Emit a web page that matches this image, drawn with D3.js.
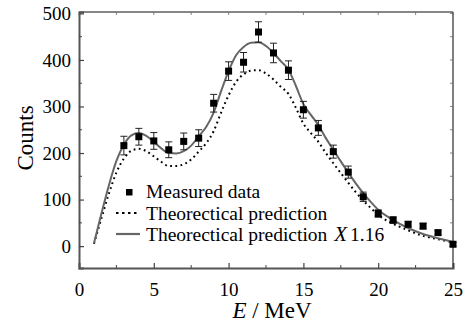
<!DOCTYPE html>
<html><head><meta charset="utf-8">
<script src="https://cdn.jsdelivr.net/npm/d3@7"></script>
<style>body{margin:0;background:#fff}svg{display:block}</style>
</head><body>
<svg id="c" width="473" height="325"></svg>
<script>
// measured data
const measE = [3,4,5,6,7,8,9,10,11,12,13,14,15,16,17,18,19,20,21,22,23,24,25];
const measV = [216,235,226,207,225,232,307,376,395,460,415,378,293,254,203,159,106,70,56,47,43,29,4];
const measErr = [20,18,18,17,18,18,19,20,21,22,21,20,18,16,14,13,10,8,7,6,6,5,4];
// theoretical curves
const curveE = [1,1.5,2,2.5,3,3.5,4,4.5,5,5.5,6,6.5,7,7.5,8,8.5,9,9.5,10,10.5,11,11.5,12,12.5,13,13.5,14,14.5,15,15.5,16,16.5,17,17.5,18,18.5,19,19.5,20,21,22,23,24,25];
const theory = [5,60,113,158,188,205,209,204,193,181,172,172,176,186,203,221,247,287,324,353,369,377,378,371,358,342,327,297,263,243,224,200,178,157,136,116,98,82,67,48,34,22,15,8];
const theoryScaled = [6,70,131,183,218,238,243,237,224,210,200,199,204,216,236,256,287,333,376,410,428,437,438,430,415,397,379,344,305,282,260,232,207,182,158,135,114,95,78,56,39,26,17,9];
const xTicks = [0,5,10,15,20,25];
const yTicks = [0,100,200,300,400,500];
const legendLabels = ["Measured data","Theorectical prediction","Theorectical prediction "];

const FONT = "'Liberation Serif', 'DejaVu Serif', serif";
const svg = d3.select("#c");
const L=79,R=453,T=12,B=268;
const x = d3.scaleLinear().domain([0,25]).range([L,R]);
const y = d3.scaleLinear().domain([-47,503]).range([B,T]);

// frame
svg.append("line").attr("x1",L).attr("x2",R).attr("y1",T).attr("y2",T).attr("stroke","#111").attr("stroke-width",1.2);
svg.append("line").attr("x1",R).attr("x2",R).attr("y1",T).attr("y2",B).attr("stroke","#555").attr("stroke-width",1.5);

const ax = d3.axisBottom(x).tickValues(xTicks).tickSize(-5).tickPadding(10).tickFormat(d3.format("d"));
const gx = svg.append("g").attr("transform",`translate(0,${B})`).call(ax);
const ay = d3.axisLeft(y).tickValues(yTicks).tickSize(-5).tickPadding(8).tickFormat(d3.format("d"));
const gy = svg.append("g").attr("transform",`translate(${L},0)`).call(ay);
[gx,gy].forEach(g=>{
  g.attr("font-family",null).attr("font-size",null);
  g.select(".domain").attr("stroke","#555").attr("stroke-width",2);
  g.selectAll(".tick line").attr("stroke","#444").attr("stroke-width",1.2);
  g.selectAll(".tick text").style("font-size","19px").style("font-family",FONT).attr("fill","#000");
});
gx.selectAll(".tick text").attr("dy","0.95em");
// minor ticks
const xMinor = d3.range(2.5,25,5);
const yMinor = d3.range(0,501,50).filter(v=>v%100!==0);
svg.append("g").selectAll("line").data(xMinor).join("line")
  .attr("x1",d=>x(d)).attr("x2",d=>x(d)).attr("y1",B).attr("y2",B-3).attr("stroke","#444");
svg.append("g").selectAll("line").data(yMinor).join("line")
  .attr("y1",d=>y(d)).attr("y2",d=>y(d)).attr("x1",L).attr("x2",L+3).attr("stroke","#444");
// mirrored top/right ticks
svg.append("g").selectAll("line").data(xTicks.concat(xMinor)).join("line")
  .attr("x1",d=>x(d)).attr("x2",d=>x(d)).attr("y1",T).attr("y2",T+3).attr("stroke","#666").attr("stroke-width",0.8);
svg.append("g").selectAll("line").data(yTicks.concat(yMinor)).join("line")
  .attr("y1",d=>y(d)).attr("y2",d=>y(d)).attr("x1",R).attr("x2",R-3).attr("stroke","#666").attr("stroke-width",0.8);

// curves
const line = d3.line().curve(d3.curveMonotoneX);
svg.append("path").attr("d",line(curveE.map((e,i)=>[x(e),y(theory[i])])))
  .attr("fill","none").attr("stroke","#000").attr("stroke-width",2).attr("stroke-dasharray","1.8,3.4");
svg.append("path").attr("d",line(curveE.map((e,i)=>[x(e),y(theoryScaled[i])])))
  .attr("fill","none").attr("stroke","#666").attr("stroke-width",2);

// error bars
const eb = svg.append("g").attr("stroke","#222").attr("stroke-width",1);
measE.forEach((e,i)=>{
  const cx=x(e), t=y(measV[i]+measErr[i]), b=y(measV[i]-measErr[i]);
  eb.append("line").attr("x1",cx).attr("x2",cx).attr("y1",t).attr("y2",b);
  eb.append("line").attr("x1",cx-3.5).attr("x2",cx+3.5).attr("y1",t).attr("y2",t);
  eb.append("line").attr("x1",cx-3.5).attr("x2",cx+3.5).attr("y1",b).attr("y2",b);
});
svg.append("g").selectAll("rect").data(measE).join("rect")
  .attr("x",d=>x(d)-3.5).attr("y",(d,i)=>y(measV[i])-3.5).attr("width",7).attr("height",7).attr("fill","#000");

// legend
const lg = svg.append("g");
lg.append("rect").attr("x",126).attr("y",189).attr("width",6.5).attr("height",6.5).attr("fill","#000");
lg.append("line").attr("x1",116).attr("x2",139).attr("y1",213).attr("y2",213).attr("stroke","#000").attr("stroke-width",2).attr("stroke-dasharray","2.5,3.5");
lg.append("line").attr("x1",116).attr("x2",140).attr("y1",234).attr("y2",234).attr("stroke","#666").attr("stroke-width",2.2);
const ys=[198,219.5,241];
legendLabels.forEach((t,i)=>{
  const tx=lg.append("text").attr("x",146).attr("y",ys[i]).style("font-size","19.5px").style("font-family",FONT).text(t);
  if(i===2){
    tx.append("tspan").attr("dx",2).style("font-style","italic").style("font-size","21px").text("X");
    tx.append("tspan").attr("dx",3).text("1.16");
  }
});

// axis titles
svg.append("text").attr("transform","translate(33,138) rotate(-90)").attr("text-anchor","middle")
  .style("font-size","23px").style("font-family",FONT).text("Counts");
const xt = svg.append("text").attr("x",272).attr("y",318).attr("text-anchor","middle")
  .style("font-size","23px").style("font-family",FONT);
xt.append("tspan").style("font-style","italic").text("E");
xt.append("tspan").text(" / MeV");
</script>
</body></html>
